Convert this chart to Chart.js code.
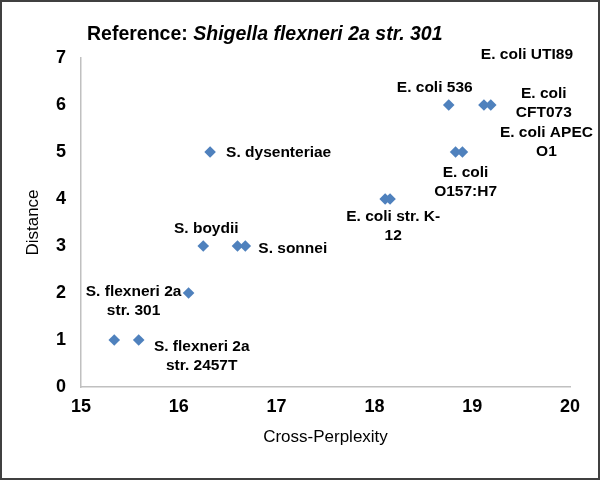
<!DOCTYPE html>
<html>
<head>
<meta charset="utf-8">
<title>Cross-Perplexity vs Distance</title>
<script src="https://cdn.jsdelivr.net/npm/chart.js@4.4.1/dist/chart.umd.min.js"></script>
<style>
  html, body { margin: 0; padding: 0; background: #fff; }
  #chart { display: block; }
</style>
</head>
<body>
<canvas id="chart" width="600" height="480"></canvas>
<script>
// values
const crossPerplexity = [15.34, 15.59, 16.10, 16.25, 16.60, 16.68, 16.32, 18.11, 18.16, 18.83, 18.90, 18.76, 19.12, 19.19];
const distance = [1, 1, 2, 3, 3, 3, 5, 4, 4, 5, 5, 6, 6, 6];
const strainLabels = [
    [],
    ['S. flexneri 2a', 'str. 2457T'],
    ['S. flexneri 2a', 'str. 301'],
    ['S. boydii'],
    [],
    ['S. sonnei'],
    ['S. dysenteriae'],
    ['E. coli str. K-', '12'],
    [],
    ['E. coli', 'O157:H7'],
    ['E. coli APEC', 'O1'],
    ['E. coli 536'],
    ['E. coli UTI89'],
    ['E. coli', 'CFT073']
];
const xTicks = { min: 15, max: 20, step: 1 };
const yTicks = { min: 0, max: 7, step: 1 };
const titlePlain = 'Reference: ';
const titleItalic = 'Shigella flexneri 2a str. 301';

// where each label sits relative to its point (pixels)
const labelPlacement = [
    null,
    { align: 'center', dx: 63, dy: 16 },
    { align: 'center', dx: -55, dy: 8 },
    { align: 'center', dx: 3, dy: -17 },
    null,
    { align: 'left', dx: 13, dy: 3 },
    { align: 'left', dx: 16, dy: 1 },
    { align: 'center', dx: 8, dy: 27 },
    null,
    { align: 'center', dx: 10, dy: 30 },
    { align: 'center', dx: 84, dy: -10 },
    { align: 'center', dx: -14, dy: -17 },
    { align: 'center', dx: 43, dy: -50 },
    { align: 'center', dx: 53, dy: -2 }
];

const FONT = "'Liberation Sans', Arial, sans-serif";
const LABEL_FONT = 'bold 15.5px ' + FONT;
const LINE_GAP = 18.7;
const AXIS_COLOR = '#c0c0c0';

const pointLabels = {
    id: 'pointLabels',
    afterDatasetsDraw(chart) {
        const ctx = chart.ctx;
        const meta = chart.getDatasetMeta(0);
        ctx.save();
        ctx.font = LABEL_FONT;
        ctx.fillStyle = '#000';
        ctx.textBaseline = 'middle';
        meta.data.forEach((pt, i) => {
            const lines = strainLabels[i];
            const place = labelPlacement[i];
            if (!lines.length || !place) return;
            ctx.textAlign = place.align;
            const y0 = pt.y + place.dy - (lines.length - 1) * LINE_GAP / 2;
            lines.forEach((line, k) => {
                ctx.fillText(line, pt.x + place.dx, y0 + k * LINE_GAP);
            });
        });
        ctx.restore();
    }
};

// mixed upright / italic title plus the outer frame
const titleAndFrame = {
    id: 'titleAndFrame',
    beforeDraw(chart) {
        const ctx = chart.ctx;
        ctx.save();
        ctx.fillStyle = '#fff';
        ctx.fillRect(0, 0, chart.width, chart.height);
        ctx.restore();
    },
    afterDraw(chart) {
        const ctx = chart.ctx;
        ctx.save();
        ctx.fillStyle = '#000';
        ctx.textBaseline = 'middle';
        ctx.textAlign = 'left';
        ctx.font = 'bold 19.5px ' + FONT;
        const x0 = 87;
        ctx.fillText(titlePlain, x0, 35);
        const w = ctx.measureText(titlePlain).width;
        ctx.font = 'italic bold 19.5px ' + FONT;
        ctx.fillText(titleItalic, x0 + w, 35);

        ctx.strokeStyle = '#404040';
        ctx.lineWidth = 2;
        ctx.strokeRect(1, 1, chart.width - 2, chart.height - 2);
        ctx.restore();
    }
};

const ctx = document.getElementById('chart').getContext('2d');
new Chart(ctx, {
    type: 'scatter',
    data: {
        datasets: [{
            label: 'Distance',
            data: crossPerplexity.map((x, i) => ({ x: x, y: distance[i] })),
            backgroundColor: '#4f81bd',
            borderColor: '#4f81bd',
            borderWidth: 0,
            pointStyle: 'rectRot',
            pointRadius: 5.8,
            pointHoverRadius: 5.8
        }]
    },
    options: {
        responsive: false,
        animation: false,
        devicePixelRatio: 1,
        layout: { padding: { top: 58, right: 30, bottom: 0, left: 0 } },
        plugins: {
            legend: { display: false },
            tooltip: { enabled: false },
            title: { display: false }
        },
        scales: {
            x: {
                type: 'linear',
                min: xTicks.min,
                max: xTicks.max,
                afterFit(scale) { scale.height = 93; },
                grid: { display: false, drawTicks: false },
                border: { display: true, color: AXIS_COLOR, width: 1.5 },
                ticks: {
                    stepSize: xTicks.step,
                    padding: 9,
                    color: '#000',
                    font: { family: FONT, size: 18, weight: 'bold' }
                },
                title: {
                    display: true,
                    text: 'Cross-Perplexity',
                    color: '#000',
                    font: { family: FONT, size: 17 },
                    padding: { top: 0, bottom: 32 }
                }
            },
            y: {
                type: 'linear',
                min: yTicks.min,
                max: yTicks.max,
                afterFit(scale) { scale.width = 81; },
                grid: { display: false, drawTicks: false },
                border: { display: true, color: AXIS_COLOR, width: 1.5 },
                ticks: {
                    stepSize: yTicks.step,
                    padding: 15,
                    color: '#000',
                    font: { family: FONT, size: 18, weight: 'bold' }
                },
                title: {
                    display: true,
                    text: 'Distance',
                    color: '#000',
                    font: { family: FONT, size: 17 },
                    padding: { top: 23, bottom: 0 }
                }
            }
        }
    },
    plugins: [titleAndFrame, pointLabels]
});
</script>
</body>
</html>
